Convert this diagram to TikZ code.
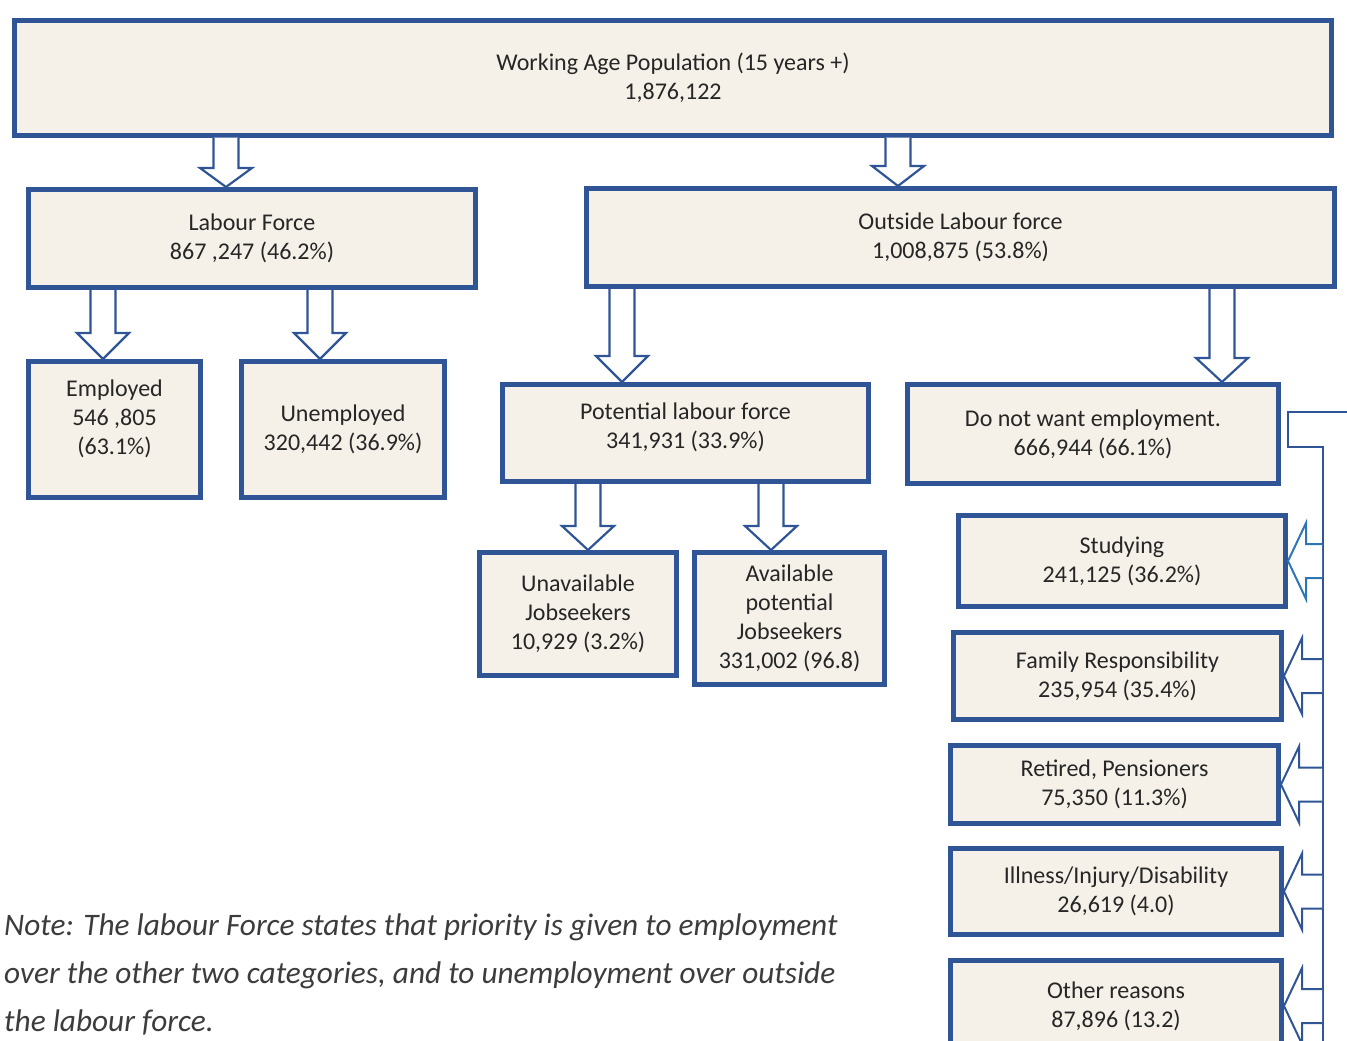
\documentclass[tikz,border=0pt]{standalone}
\usepackage{fontspec}
\setmainfont{Carlito}
\usetikzlibrary{calc}
\definecolor{bblue}{RGB}{47,85,151}
\definecolor{lblue}{RGB}{46,117,182}
\definecolor{cream}{RGB}{245,241,232}
\definecolor{txt}{RGB}{38,38,38}
\definecolor{notegray}{RGB}{60,60,60}

\tikzset{
  box/.style={draw=bblue, line width=5pt, fill=cream, text=txt, align=center,
    font=\fontsize{24}{29}\selectfont},
  dnarrow/.style={draw=bblue, line width=2.2pt, fill=white,
    to path={let \p1=(\tikztostart), \p2=(\tikztotarget) in
      (\x1-12.5pt,\y1) -- (\x1-12.5pt,\y2+#1) -- (\x1-26pt,\y2+#1) -- (\x2,\y2)
      -- (\x1+26pt,\y2+#1) -- (\x1+12.5pt,\y2+#1) -- (\x1+12.5pt,\y1)}},
  dnarrow/.default=24pt,
  ltarrow/.style={draw=#1, line width=2pt, fill=white,
    to path={let \p1=(\tikztostart), \p2=(\tikztotarget) in
      (\x1,\y1+17pt) -- (\x2+18pt,\y1+17pt) -- (\x2+18pt,\y1+38pt) -- (\x2,\y2)
      -- (\x2+18pt,\y1-38pt) -- (\x2+18pt,\y1-17pt) -- (\x1,\y1-17pt)}},
  ltarrow/.default=bblue,
  link/.style={draw=bblue, line width=2pt},
  note/.style={align=left, text=notegray, inner sep=0pt,
    font=\fontsize{31.3}{48}\selectfont\itshape},
}

\begin{document}
\begin{tikzpicture}[x=1pt,y=-1pt]
\useasboundingbox (0,0) rectangle (1347,1041);

% boxes
\node[box, minimum width=1317pt, minimum height=114pt] (W) at (673,78) {Working Age Population (15 years +)\\1,876,122};
\node[box, minimum width=447pt, minimum height=98pt] (LF) at (252,238.5) {Labour Force\\867 ,247 (46.2\%)};
\node[box, minimum width=748pt, minimum height=98pt] (OLF) at (960.5,237.5) {Outside Labour force\\1,008,875 (53.8\%)};
\node[box, minimum width=172pt, minimum height=136pt, text depth=24pt] (E) at (114.5,429.5) {Employed\\546 ,805\\(63.1\%)};
\node[box, minimum width=203pt, minimum height=136pt] (U) at (343,429.5) {Unemployed\\320,442 (36.9\%)};
\node[box, minimum width=366pt, minimum height=97pt, text depth=14pt] (PLF) at (685.5,433) {Potential labour force\\341,931 (33.9\%)};
\node[box, minimum width=371pt, minimum height=99pt] (DNW) at (1093,434) {Do not want employment.\\666,944 (66.1\%)};
\node[box, minimum width=197pt, minimum height=123pt] (UJ) at (578,614) {Unavailable\\Jobseekers\\10,929 (3.2\%)};
\node[box, minimum width=190pt, minimum height=132pt] (AJ) at (789.5,618.5) {Available\\potential\\Jobseekers\\331,002 (96.8)};
\node[box, minimum width=327pt, minimum height=91pt] (ST) at (1122,561) {Studying\\241,125 (36.2\%)};
\node[box, minimum width=328pt, minimum height=87pt] (FR) at (1117.5,676) {Family Responsibility\\235,954 (35.4\%)};
\node[box, minimum width=328pt, minimum height=78pt] (RP) at (1114.5,784.5) {Retired, Pensioners\\75,350 (11.3\%)};
\node[box, minimum width=331pt, minimum height=86pt] (ID) at (1116,891.5) {Illness/Injury/Disability\\26,619 (4.0)};
\node[box, minimum width=331pt, minimum height=91pt] (OR) at (1116,1006) {Other reasons\\87,896 (13.2)};

% downward block arrows
\draw[dnarrow=19pt] (226,0 |- W.south) to (226,0 |- LF.north);
\draw[dnarrow=20pt] (898,0 |- W.south) to (898,0 |- OLF.north);
\draw[dnarrow=26pt] (103,0 |- LF.south) to (103,0 |- E.north);
\draw[dnarrow=26pt] (320,0 |- LF.south) to (320,0 |- U.north);
\draw[dnarrow=26pt] (622,0 |- OLF.south) to (622,0 |- PLF.north);
\draw[dnarrow] (1222,0 |- OLF.south) to (1222,0 |- DNW.north);
\draw[dnarrow] (588,0 |- PLF.south) to (588,0 |- UJ.north);
\draw[dnarrow] (771,0 |- PLF.south) to (771,0 |- AJ.north);

% bracket on the right
\coordinate (B0) at (1347,412);
\coordinate (B1) at (1323,1041);
\draw[link] (B0) -| (1288,447) -| (B1);

% arrows into the reasons
\draw[ltarrow=lblue] (1322,0 |- ST.east) to (ST.east);
\draw[ltarrow] (1322,0 |- FR.east) to (FR.east);
\draw[ltarrow] (1322,0 |- RP.east) to (RP.east);
\draw[ltarrow] (1322,0 |- ID.east) to (ID.east);
\draw[ltarrow] (1322,0 |- OR.east) to (OR.east);

\node[note, anchor=north west] (N) at (4,914) {Note: The labour Force states that priority is given to employment\\over the other two categories, and to unemployment over outside\\the labour force.};
\end{tikzpicture}
\end{document}
